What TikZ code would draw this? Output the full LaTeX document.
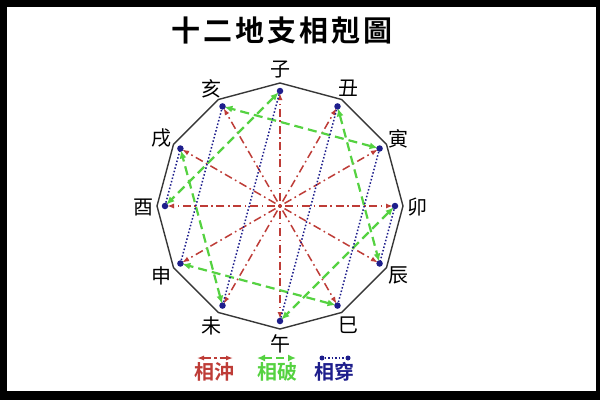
\documentclass[tikz,border=0pt]{standalone}
\usepackage{fontspec}
\usetikzlibrary{arrows.meta}
\newfontfamily\cjk{Noto Sans CJK TC}[BoldFont={Noto Sans CJK TC Bold}]
\definecolor{chongred}{RGB}{190,60,55}
\definecolor{pogreen}{RGB}{85,210,65}
\definecolor{chuanblue}{RGB}{30,30,140}
\definecolor{polygray}{RGB}{55,55,55}
\tikzset{
  chong/.style={draw=chongred, line width=1.5pt, dash pattern=on 1.6pt off 3.6pt on 8pt off 3.6pt, -{Latex[length=7pt,width=5pt]}},
  po/.style={draw=pogreen, line width=2.2pt, dash pattern=on 9pt off 5pt, {Latex[length=8pt,width=7pt]}-{Latex[length=8pt,width=7pt]}},
  chuan/.style={draw=chuanblue, line width=1.5pt, dash pattern=on 1.5pt off 2pt},
  bdot/.style={circle, fill=chuanblue, inner sep=0pt, minimum size=6.5pt},
  branch/.style={font=\cjk\fontsize{20}{20}\selectfont, text=black, inner sep=0pt},
  legtext/.style={font=\cjk\bfseries\fontsize{20}{20}\selectfont, inner sep=0pt},
}
\begin{document}
\begin{tikzpicture}[x=1pt,y=-1pt]
\useasboundingbox (0,0) rectangle (600,400);
\fill[black] (0,0) rectangle (600,400);
\fill[white] (7,7) rectangle (596,391);
% title
\node[font=\cjk\bfseries\fontsize{29}{29}\selectfont, inner sep=0pt] (title) at (282,31) {十\hspace{3pt}二\hspace{3pt}地\hspace{3pt}支\hspace{3pt}相\hspace{3pt}剋\hspace{3pt}圖};
\coordinate (c) at (280,206);
\foreach \n/\t [count=\k from 0] in {zi/子,chou/丑,yin/寅,mao/卯,chen/辰,si/巳,wu/午,wei/未,shen/申,you/酉,xu/戌,hai/亥}{
  \coordinate (v\n) at ({280+123*sin(30*\k)},{206-123*cos(30*\k)});
  \coordinate (d\n) at ({280+115*sin(30*\k)},{206-115*cos(30*\k)});
  \node[branch] (l\n) at ({280+137*sin(30*\k)},{207-137*cos(30*\k)}) {\t};
}
% polygon
\draw[polygray, line width=1.4pt] (vzi) -- (vchou) -- (vyin) -- (vmao) -- (vchen) -- (vsi) -- (vwu) -- (vwei) -- (vshen) -- (vyou) -- (vxu) -- (vhai) -- cycle;
% chong (opposition)
\foreach \n in {zi,chou,yin,mao,chen,si,wu,wei,shen,you,xu,hai}{
  \draw[chong, shorten >=2pt] (c) -- (d\n);
}
% po (destruction)
\draw[po, shorten >=2pt, shorten <=2pt] (dzi) -- (dyou);
\draw[po, shorten >=2pt, shorten <=2pt] (dchou) -- (dchen);
\draw[po, shorten >=2pt, shorten <=2pt] (dyin) -- (dhai);
\draw[po, shorten >=2pt, shorten <=2pt] (dmao) -- (dwu);
\draw[po, shorten >=2pt, shorten <=2pt] (dsi) -- (dshen);
\draw[po, shorten >=2pt, shorten <=2pt] (dwei) -- (dxu);
% chuan (harm)
\draw[chuan] (dzi) -- (dwei);
\draw[chuan] (dchou) -- (dwu);
\draw[chuan] (dyin) -- (dsi);
\draw[chuan] (dmao) -- (dchen);
\draw[chuan] (dshen) -- (dhai);
\draw[chuan] (dyou) -- (dxu);
\foreach \n in {zi,chou,yin,mao,chen,si,wu,wei,shen,you,xu,hai}{
  \node[bdot] (p\n) at (d\n) {};
}
% legend
\coordinate (r1) at (215,358);
\coordinate (r0) at (197,358);
\coordinate (r2) at (233,358);
\draw[chong, line width=1.3pt, dash pattern=on 1.5pt off 3pt on 7pt off 3pt] (r1) -- (r0);
\draw[chong, line width=1.3pt, dash pattern=on 1.5pt off 3pt on 7pt off 3pt] (r1) -- (r2);
\coordinate (g0) at (257,358);
\coordinate (g1) at (296,358);
\draw[po, dash pattern=on 8pt off 4pt] (g0) -- (g1);
\node[bdot, minimum size=5pt] (b0) at (322,358) {};
\node[bdot, minimum size=5pt] (b1) at (348,358) {};
\draw[chuan] (b0) -- (b1);
\node[legtext, text=chongred] (lt1) at (214,372) {相沖};
\node[legtext, text=pogreen] (lt2) at (277,372) {相破};
\node[legtext, text=chuanblue] (lt3) at (334,372) {相穿};
\end{tikzpicture}
\end{document}
